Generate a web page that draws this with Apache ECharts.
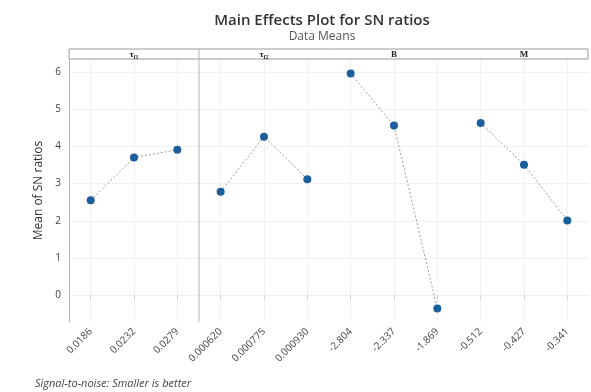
<!DOCTYPE html>
<html><head><meta charset="utf-8">
<script src="https://cdn.jsdelivr.net/npm/echarts@6/dist/echarts.min.js"></script>
<style>html,body{margin:0;padding:0;background:#fff}#c{width:591px;height:392px}</style>
</head><body><div id="c"></div>
<script>
const categories = ['0.0186','0.0232','0.0279','0.000620','0.000775','0.000930','-2.804','-2.337','-1.869','-0.512','-0.427','-0.341'];
const tauF1 = [2.55, 3.70, 3.91];
const tauF2 = [2.78, 4.26, 3.12];
const B = [5.96, 4.56, -0.36];
const M = [4.63, 3.51, 2.01];
const panels = ['τf1','τf2','B','M'];
const yTicks = [0,1,2,3,4,5,6];

(function(){
const groups = [tauF1, tauF2, B, M];
function pad(vals, k){ const a = new Array(12).fill(null); vals.forEach((v,i)=>a[k*3+i]=v); return a; }

const chart = echarts.init(document.getElementById('c'));
const series = groups.map((g,k)=>({
  type:'line', data: pad(g,k), connectNulls:false, z:10,
  symbol:'circle', symbolSize:8,
  itemStyle:{color:'#1b5e9b'},
  lineStyle:{color:'#9a9a9a', width:1, type:[2,2]},
  animation:false
}));
// faint grid lines through category centres and integer y values
series.push({
  type:'line', data:[], z:0, silent:true,
  markLine:{silent:true, z:0, symbol:'none', animation:false, label:{show:false},
    lineStyle:{color:'#f1f1f1', width:1, type:'solid'},
    data: categories.map(c=>({xAxis:c})).concat(yTicks.map(v=>({yAxis:v})))}
});
chart.setOption({
  animation:false,
  title:[
    {text:'Main Effects Plot for SN ratios', left:317, textAlign:'center', top:8,
     textStyle:{fontFamily:'Open Sans', fontSize:15, fontWeight:600, color:'#333'}},
    {text:'Data Means', left:317, textAlign:'center', top:26,
     textStyle:{fontFamily:'Open Sans', fontSize:12, fontWeight:'normal', color:'#555'}},
    {text:'Signal-to-noise: Smaller is better', left:30, top:373,
     textStyle:{fontFamily:'Open Sans', fontSize:11, fontStyle:'italic', fontWeight:'normal', color:'#444'}}
  ],
  grid:{left:69, right:2, top:59, bottom:70},
  xAxis:{type:'category', data:categories, boundaryGap:true,
    axisLine:{show:false},
    axisTick:{show:true, alignWithLabel:true, length:4, lineStyle:{color:'#cfcfcf'}},
    axisLabel:{rotate:45, fontSize:10, color:'#444', fontFamily:'Open Sans', margin:8, interval:0},
    splitLine:{show:false}
  },
  yAxis:{type:'value', min:-0.72, max:6.35,
    name:'Mean of SN ratios', nameLocation:'middle', nameGap:20,
    nameTextStyle:{fontFamily:'Open Sans', fontSize:12, color:'#333'},
    axisLine:{show:true, lineStyle:{color:'#b5b5b5'}},
    axisTick:{show:false, customValues:yTicks},
    axisLabel:{customValues:yTicks, fontSize:10, color:'#444', fontFamily:'Open Sans', margin:8},
    splitLine:{show:false}
  },
  series: series
});

const p0 = chart.convertToPixel({xAxisIndex:0}, categories[0]);
const p1 = chart.convertToPixel({xAxisIndex:0}, categories[1]);
const step = p1 - p0;
const xl = p0 - step/2, xr = xl + step*12;
const yt = 49, hb = 59, yb = 322;
const gfx = [
  {type:'rect', shape:{x:xl, y:yt, width:xr-xl-1, height:hb-yt}, style:{fill:'#fff', stroke:'#9a9a9a', lineWidth:1}},
  {type:'line', shape:{x1:xl+step*3, y1:yt, x2:xl+step*3, y2:yb}, style:{stroke:'#b5b5b5', lineWidth:1}}
];
const subs = ['f1','f2','',''];
const mains = ['τ','τ','B','M'];
panels.forEach((p,k)=>{
  const cx = chart.convertToPixel({xAxisIndex:0}, categories[k*3+1]);
  gfx.push({type:'text', x:cx, y:(yt+hb)/2+1, style:{
    text: subs[k] ? '{m|'+mains[k]+'}{s|'+subs[k]+'}' : '{m|'+mains[k]+'}',
    align:'center', verticalAlign:'middle',
    rich:{m:{fontFamily:'Liberation Serif', fontSize:9, fontWeight:'bold', fill:'#222'},
          s:{fontFamily:'Liberation Serif', fontSize:6, fontWeight:'bold', fill:'#222', padding:[5,0,0,0]}}
  }});
});
chart.setOption({graphic:gfx});
})();
</script></body></html>
